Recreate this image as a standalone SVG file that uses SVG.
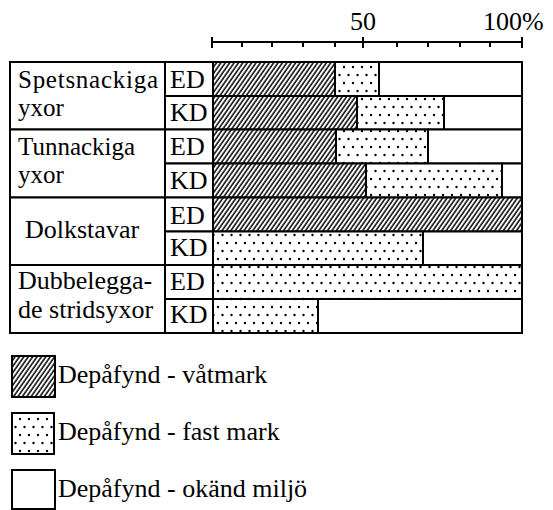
<svg xmlns="http://www.w3.org/2000/svg" width="553" height="510" viewBox="0 0 553 510" font-family="'Liberation Serif', 'Times New Roman', 'DejaVu Serif', serif">
<style>
text{font-family:'Liberation Serif','Times New Roman','DejaVu Serif',serif;font-size:26px;fill:#000}
.t2{font-size:25px}
.ln{stroke:#000;stroke-width:2;fill:none}
.b{stroke:#000;stroke-width:2}
.h{fill:url(#hatch)}
.d{fill:url(#dots)}
.w{fill:#fff}
</style>
<defs>
<pattern id="hatch" patternUnits="userSpaceOnUse" width="3.6" height="10" patternTransform="rotate(35)">
<rect width="3.6" height="10" fill="#fff"/>
<line x1="1" y1="-1" x2="1" y2="11" stroke="#000" stroke-width="1.5"/>
</pattern>
<pattern id="dots" patternUnits="userSpaceOnUse" width="9" height="16" x="215" y="64">
<rect width="9" height="16" fill="#fff"/>
<circle cx="3" cy="3" r="1.2" fill="#000"/>
<circle cx="7.5" cy="11" r="1.2" fill="#000"/>
</pattern>
</defs>
<rect width="553" height="510" fill="#fff"/>

<g id="scale">
<line class="ln" x1="212" y1="42" x2="522" y2="42"/>
<line class="ln" x1="212" y1="37" x2="212" y2="48"/>
<line class="ln" x1="363" y1="37" x2="363" y2="48"/>
<line class="ln" x1="522" y1="37" x2="522" y2="48"/>
<path class="ln" d="M242 42V47M272 42V47M303 42V47M335 42V47M397 42V47M428 42V47M460 42V47M490 42V47"/>
<text x="363" y="30" text-anchor="middle">50</text>
<text x="483" y="30">100%</text>
</g>

<g id="spetsnackiga">
<rect class="b w" x="10" y="62" width="155" height="67.5"/>
<rect class="b w" x="165" y="62" width="48" height="34"/>
<rect class="b w" x="165" y="96" width="48" height="33.5"/>
<text class="t2" x="18" y="88" textLength="140">Spetsnackiga</text>
<text class="t2" x="18" y="116">yxor</text>
<text x="170" y="88">ED</text>
<text x="170" y="121">KD</text>
<rect class="b h" x="213" y="62" width="122" height="34"/>
<rect class="b d" x="335" y="62" width="44" height="34"/>
<rect class="b w" x="379" y="62" width="143" height="34"/>
<rect class="b h" x="213" y="96" width="144" height="33.5"/>
<rect class="b d" x="357" y="96" width="87" height="33.5"/>
<rect class="b w" x="444" y="96" width="78" height="33.5"/>
</g>

<g id="tunnackiga">
<rect class="b w" x="10" y="129.5" width="155" height="68"/>
<rect class="b w" x="165" y="129.5" width="48" height="34"/>
<rect class="b w" x="165" y="163.5" width="48" height="34"/>
<text class="t2" x="18" y="155">Tunnackiga</text>
<text class="t2" x="18" y="183">yxor</text>
<text x="170" y="155">ED</text>
<text x="170" y="189">KD</text>
<rect class="b h" x="213" y="129.5" width="123" height="34"/>
<rect class="b d" x="336" y="129.5" width="92" height="34"/>
<rect class="b w" x="428" y="129.5" width="94" height="34"/>
<rect class="b h" x="213" y="163.5" width="153" height="34"/>
<rect class="b d" x="366" y="163.5" width="136" height="34"/>
<rect class="b w" x="502" y="163.5" width="20" height="34"/>
</g>

<g id="dolkstavar">
<rect class="b w" x="10" y="197.5" width="155" height="67.5"/>
<rect class="b w" x="165" y="197.5" width="48" height="34"/>
<rect class="b w" x="165" y="231.5" width="48" height="33.5"/>
<text x="25" y="238">Dolkstavar</text>
<text x="170" y="224">ED</text>
<text x="170" y="256">KD</text>
<rect class="b h" x="213" y="197.5" width="309" height="34"/>
<rect class="b d" x="213" y="231.5" width="210" height="33.5"/>
<rect class="b w" x="423" y="231.5" width="99" height="33.5"/>
</g>

<g id="dubbeleggade">
<rect class="b w" x="10" y="265" width="155" height="68"/>
<rect class="b w" x="165" y="265" width="48" height="34"/>
<rect class="b w" x="165" y="299" width="48" height="34"/>
<text x="18" y="289">Dubbelegga-</text>
<text x="18" y="318">de stridsyxor</text>
<text x="170" y="290">ED</text>
<text x="170" y="323">KD</text>
<rect class="b d" x="213" y="265" width="309" height="34"/>
<rect class="b d" x="213" y="299" width="105" height="34"/>
<rect class="b w" x="318" y="299" width="204" height="34"/>
</g>

<g id="legend">
<rect class="b h" x="12" y="356" width="43" height="41"/>
<text x="58" y="383">Depåfynd - våtmark</text>
<rect class="b d" x="12" y="413" width="42" height="41"/>
<text x="58" y="440">Depåfynd - fast mark</text>
<rect class="b w" x="12" y="470" width="43" height="39"/>
<text x="58" y="497">Depåfynd - okänd miljö</text>
</g>
</svg>
